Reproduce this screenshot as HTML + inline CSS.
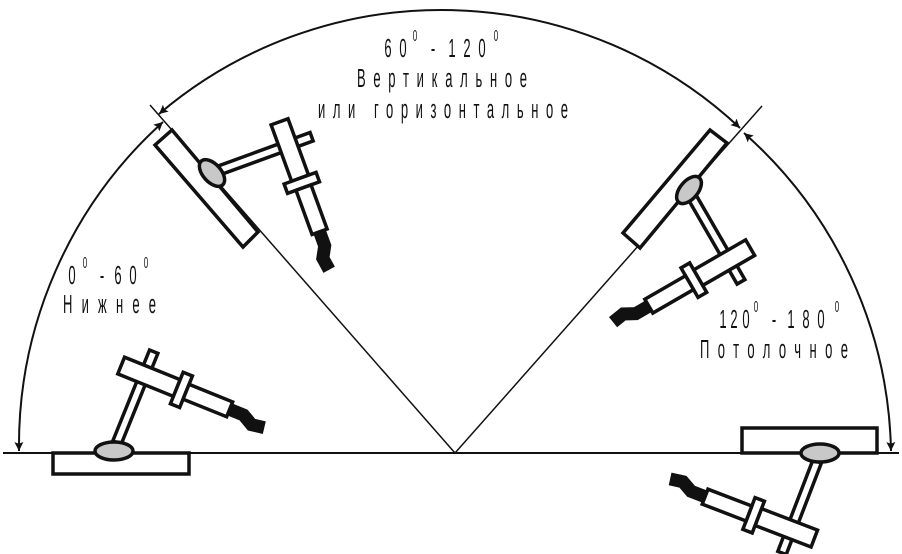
<!DOCTYPE html>
<html><head><meta charset="utf-8"><style>
html,body{margin:0;padding:0;background:#fff;}
svg{display:block;}
text{font-family:"Liberation Sans","DejaVu Sans",sans-serif;fill:#111;}
.c{font-size:26px;text-anchor:middle;}
.s{font-size:16px;text-anchor:middle;}
</style></head><body>
<svg width="902" height="554" viewBox="0 0 902 554" xmlns="http://www.w3.org/2000/svg">
<defs>
<marker id="ah" viewBox="0 0 10 10" refX="10" refY="5" markerWidth="9" markerHeight="9" markerUnits="userSpaceOnUse" orient="auto-start-reverse">
<path d="M0,0 L10,5 L0,10 L2,5 z" fill="#111"/></marker>
<g id="torch" stroke="#111" stroke-width="3.5" fill="#fff" stroke-linejoin="miter">
  <rect x="-4.5" y="-106" width="9" height="98"/>
  <rect x="-25" y="-90" width="60" height="18"/>
  <rect x="35" y="-98" width="10" height="34"/>
  <rect x="45" y="-89" width="47" height="16"/>
  <path d="M92,-81 L107,-81 L118,-75 L131,-77" fill="none" stroke-width="13" stroke-linejoin="miter"/>
</g>
</defs>

<line x1="3" y1="453" x2="899" y2="453" stroke="#111" stroke-width="2"/>
<line x1="455" y1="453" x2="150" y2="105" stroke="#111" stroke-width="1.5"/>
<line x1="455" y1="453" x2="762" y2="106" stroke="#111" stroke-width="1.5"/>

<path d="M163,122 A436,436 0 0 0 19,451" fill="none" stroke="#111" stroke-width="2" marker-start="url(#ah)" marker-end="url(#ah)"/>
<path d="M159,114 A436,436 0 0 1 740,128" fill="none" stroke="#111" stroke-width="2" marker-start="url(#ah)" marker-end="url(#ah)"/>
<path d="M744,133 A436,436 0 0 1 891,451" fill="none" stroke="#111" stroke-width="2" marker-start="url(#ah)" marker-end="url(#ah)"/>

<rect x="53" y="453" width="136" height="21" fill="#fff" stroke="#111" stroke-width="3.5"/>
<polygon points="155,145 172,130 258,232 243,247" fill="#fff" stroke="#111" stroke-width="3.5"/>
<polygon points="710,130 727,143 640,248 623,233" fill="#fff" stroke="#111" stroke-width="3.5"/>
<rect x="742" y="428" width="135" height="25" fill="#fff" stroke="#111" stroke-width="3.5"/>

<use href="#torch" transform="translate(114,450) rotate(22)"/>
<use href="#torch" transform="translate(212,173) rotate(70)"/>
<use href="#torch" transform="translate(688,190) rotate(150)"/>
<use href="#torch" transform="translate(820,454) rotate(201)"/>

<ellipse cx="114" cy="451" rx="19" ry="9" fill="#c8c8c8" stroke="#111" stroke-width="3.5"/>
<ellipse cx="212" cy="173" rx="9" ry="16" transform="rotate(-42 212 173)" fill="#c8c8c8" stroke="#111" stroke-width="3.5"/>
<ellipse cx="689" cy="190" rx="9" ry="16" transform="rotate(40 689 190)" fill="#c8c8c8" stroke="#111" stroke-width="3.5"/>
<ellipse cx="820" cy="453" rx="19" ry="9" fill="#c8c8c8" stroke="#111" stroke-width="3.5"/>

<text class="c" transform="translate(388,57) scale(0.5,1)">6</text>
<text class="c" transform="translate(403,57) scale(0.5,1)">0</text>
<text class="s" transform="translate(415,41) scale(0.5,1)">0</text>
<text class="c" transform="translate(433,57) scale(0.5,1)">-</text>
<text class="c" transform="translate(452,57) scale(0.5,1)">1</text>
<text class="c" transform="translate(467,57) scale(0.5,1)">2</text>
<text class="c" transform="translate(482,57) scale(0.5,1)">0</text>
<text class="s" transform="translate(496,41) scale(0.5,1)">0</text>
<text font-size="26" transform="translate(357,87) scale(0.5,1)" textLength="340" lengthAdjust="spacing">Вертикальное</text>
<text font-size="26" transform="translate(318,118) scale(0.5,1)" textLength="500" lengthAdjust="spacing">или горизонтальное</text>

<text class="c" transform="translate(72,284) scale(0.5,1)">0</text>
<text class="s" transform="translate(85,268) scale(0.5,1)">0</text>
<text class="c" transform="translate(102,284) scale(0.5,1)">-</text>
<text class="c" transform="translate(118,284) scale(0.5,1)">6</text>
<text class="c" transform="translate(133,284) scale(0.5,1)">0</text>
<text class="s" transform="translate(146,268) scale(0.5,1)">0</text>
<text font-size="26" transform="translate(63,313) scale(0.5,1)" textLength="186" lengthAdjust="spacing">Нижнее</text>

<text class="c" transform="translate(723,328) scale(0.5,1)">1</text>
<text class="c" transform="translate(734,328) scale(0.5,1)">2</text>
<text class="c" transform="translate(746,328) scale(0.5,1)">0</text>
<text class="s" transform="translate(756,312) scale(0.5,1)">0</text>
<text class="c" transform="translate(774,328) scale(0.5,1)">-</text>
<text class="c" transform="translate(791,328) scale(0.5,1)">1</text>
<text class="c" transform="translate(806,328) scale(0.5,1)">8</text>
<text class="c" transform="translate(821,328) scale(0.5,1)">0</text>
<text class="s" transform="translate(837,312) scale(0.5,1)">0</text>
<text font-size="26" transform="translate(700,358) scale(0.5,1)" textLength="296" lengthAdjust="spacing">Потолочное</text>
</svg>
</body></html>
